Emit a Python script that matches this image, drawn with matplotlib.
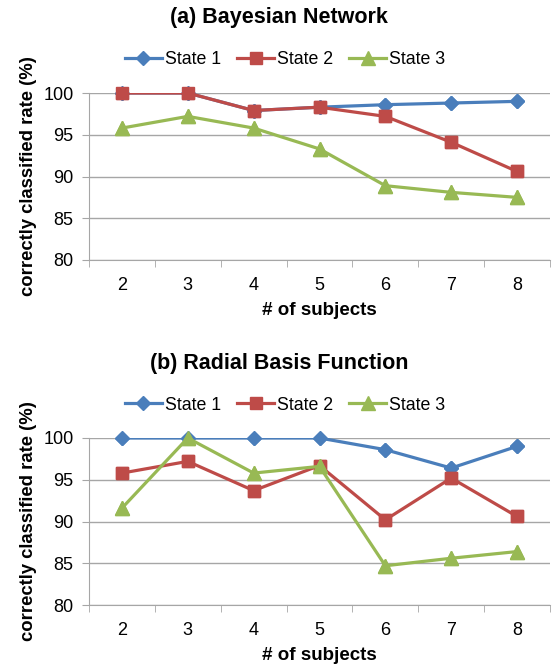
import numpy as np
import matplotlib.pyplot as plt

plt.rcParams['font.family'] = ['Liberation Sans', 'DejaVu Sans']

subjects = ['2', '3', '4', '5', '6', '7', '8']
series_names = ['State 1', 'State 2', 'State 3']

# (a) Bayesian Network
bn_state1 = [100.0, 100.0, 97.9, 98.3, 98.6, 98.8, 99.0]
bn_state2 = [100.0, 100.0, 97.9, 98.3, 97.2, 94.1, 90.6]
bn_state3 = [95.8, 97.2, 95.8, 93.3, 88.9, 88.1, 87.5]

# (b) Radial Basis Function
rbf_state1 = [100.0, 100.0, 100.0, 100.0, 98.6, 96.4, 99.0]
rbf_state2 = [95.8, 97.2, 93.7, 96.7, 90.2, 95.2, 90.6]
rbf_state3 = [91.6, 100.0, 95.8, 96.6, 84.7, 85.6, 86.4]

titles = ['(a) Bayesian Network', '(b) Radial Basis Function']

colors = ['#4A7EBB', '#BE4B48', '#98B954']
markers = ['D', 's', '^']
msizes = [7, 9, 9.5]

W, H = 558, 664
fig = plt.figure(figsize=(W / 100, H / 100), dpi=100)

# axes boxes in pixels: left, top, right, bottom
boxes = [(89, 93, 550, 260), (89, 438, 550, 605)]
data = [[bn_state1, bn_state2, bn_state3], [rbf_state1, rbf_state2, rbf_state3]]

for k in range(2):
    l, t, r, b = boxes[k]
    ax = fig.add_axes([l / W, 1 - b / H, (r - l) / W, (b - t) / H])
    x = np.arange(len(subjects))
    for i in range(3):
        # line is clipped at the plot area (like excel), markers are not
        ax.plot(x, data[k][i], color=colors[i], marker=markers[i], ms=msizes[i],
                lw=2.3, label=series_names[i], zorder=3 + i)
        ax.plot(x, data[k][i], color=colors[i], marker=markers[i], ms=msizes[i],
                ls='none', zorder=3 + i, clip_on=False)
    ax.set_xlim(-0.5, len(subjects) - 0.5)
    ax.set_ylim(80, 100)
    ax.set_yticks([80, 85, 90, 95, 100])
    ax.yaxis.grid(True, color='#A6A6A6', lw=1)
    ax.set_axisbelow(True)
    ax.set_xticks(x)
    ax.set_xticklabels(subjects)
    ax.set_xticks(np.arange(-0.5, len(subjects)), minor=True)
    ax.tick_params(axis='x', which='major', length=0, pad=12, labelsize=13)
    ax.tick_params(axis='x', which='minor', length=5, color='#A6A6A6', direction='out')
    ax.tick_params(axis='y', length=5, color='#A6A6A6', labelsize=13, pad=6)
    for s in ['top', 'right']:
        ax.spines[s].set_visible(False)
    for s in ['left', 'bottom']:
        ax.spines[s].set_color('#A6A6A6')
    ax.set_xlabel('# of subjects', fontsize=13.5, fontweight='bold', labelpad=6)
    ax.set_ylabel('correctly classified rate (%)', fontsize=13.3, fontweight='bold', labelpad=5)
    fig.text(0.5, 1 - (t - 75) / H, titles[k], fontsize=15.5, fontweight='bold',
             ha='center', va='center')
    ax.legend(loc='center', bbox_to_anchor=(285 / W, 1 - (t - 33) / H),
              bbox_transform=fig.transFigure, ncol=3, frameon=False,
              fontsize=12.8, handlelength=2.1, columnspacing=0.9, handletextpad=0.15,
              borderaxespad=0)

fig.savefig('out.png', dpi=100)
